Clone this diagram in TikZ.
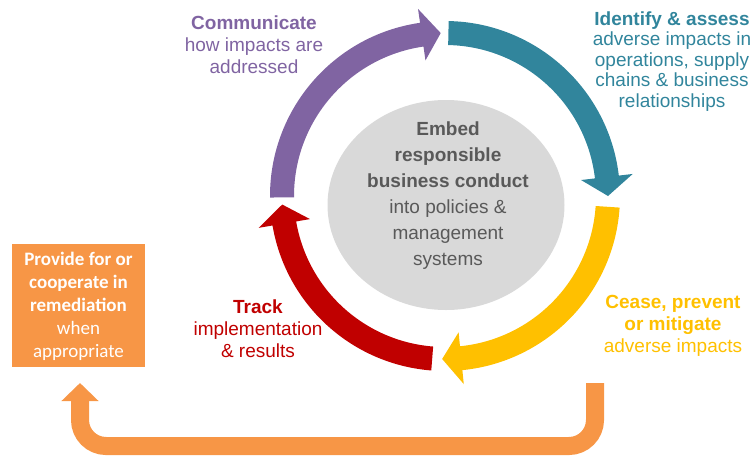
\documentclass[tikz,border=0pt]{standalone}
\usepackage{fontspec}
\setmainfont{Liberation Sans}
\newfontfamily\boxfont{Carlito}
\usetikzlibrary{arrows.meta}
\definecolor{cpurple}{HTML}{8064A2}
\definecolor{cteal}{HTML}{31859C}
\definecolor{cyellow}{HTML}{FFC000}
\definecolor{cred}{HTML}{C00000}
\definecolor{corange}{HTML}{F79646}
\definecolor{cgray}{HTML}{D9D9D9}
\definecolor{ctext}{HTML}{595959}
\newcommand{\mystrut}{\rule{0pt}{15pt}}
% #1 colour, #2 tail angle, #3 tip angle (clockwise arrow)
\newcommand{\ringarrow}[3]{%
  \fill[#1] (#2:175pt) arc[start angle=#2, end angle={#3+6.7}, radius=175pt]
    -- ({#3+6.7}:189pt) -- (#3:163pt) -- ({#3+6.7}:137pt) -- ({#3+6.7}:151pt)
    arc[start angle={#3+6.7}, end angle=#2, radius=151pt] -- cycle;}
\begin{document}
\begin{tikzpicture}[x=1pt,y=-1pt,
  lbl/.style={anchor=north, inner sep=0pt, align=center, font=\fontsize{19}{22}\selectfont},
  feedback/.style={draw=corange, line width=18pt, rounded corners=26pt,
    -{Triangle[width=36pt,length=18pt]}},
  remedybox/.style={fill=corange, text=white, inner sep=0pt, minimum width=133pt,
    minimum height=123pt, align=center, font=\boxfont\fontsize{19}{23}\selectfont}]
\useasboundingbox (0,0) rectangle (755,456);

% grey centre
\fill[cgray] (446,205) ellipse [x radius=118.5pt, y radius=105pt];

% ring of arrows
\begin{scope}[shift={(445,196)}]
  \ringarrow{cpurple}{180.5}{91.5}
  \ringarrow{cteal}{88.8}{0}
  \ringarrow{cyellow}{-3.8}{-91}
  \ringarrow{cred}{-94.5}{-177}
\end{scope}

% centre text
\node[lbl, text=ctext, font=\fontsize{19}{26}\selectfont] (embed) at (448,120)
  {\mystrut\textbf{Embed}\\\textbf{responsible}\\\textbf{business conduct}\\into policies \&\\management\\systems};

% side texts
\node[lbl, text=cpurple] (communicate) at (254,14)
  {\mystrut\textbf{Communicate}\\how impacts are\\addressed};
\node[lbl, text=cteal, font=\fontsize{19}{20.5}\selectfont] (identify) at (672,10)
  {\mystrut\textbf{Identify \& assess}\\adverse impacts in\\operations, supply\\chains \& business\\relationships};
\node[lbl, text=cyellow] (cease) at (673,293)
  {\mystrut\textbf{Cease, prevent}\\\textbf{or mitigate}\\adverse impacts};
\node[lbl, text=cred] (track) at (258,298)
  {\mystrut\textbf{Track}\\implementation\\\& results};

% remediation box
\node[remedybox] (remedy) at (78.5,305.5)
  {\mystrut\textbf{Provide for or}\\\textbf{cooperate in}\\\textbf{remediation}\\when\\appropriate};

% feedback arrow
\coordinate (fbstart) at (595,383);
\coordinate (fbright) at (595,446);
\coordinate (fbleft) at (80,446);
\coordinate (fbend) at (80,383);
\draw[feedback] (fbstart) -- (fbright) -- (fbleft) -- (fbend);
\end{tikzpicture}
\end{document}
